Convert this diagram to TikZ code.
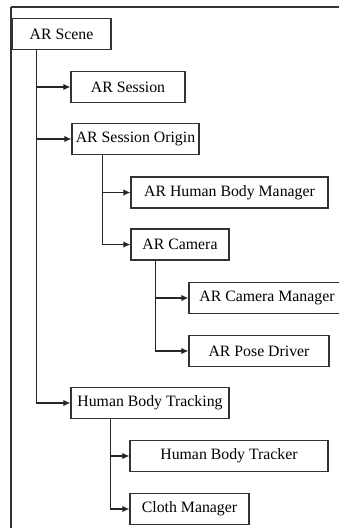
\documentclass[tikz,border=0pt]{standalone}
\usepackage{fontspec}
\setmainfont{Liberation Serif}
\usetikzlibrary{arrows.meta}
\begin{document}
\begin{tikzpicture}[x=1pt,y=-1pt,
  box/.style={draw=black!80, line width=1.3pt, minimum height=31pt, inner sep=0pt,
    font=\fontsize{15.8}{18}\selectfont, text=black},
  link/.style={draw=black!85, line width=1.3pt, -{Latex[length=7pt,width=6.5pt]}}]
\useasboundingbox (0,0) rectangle (339,528);
\fill[white] (0,0) rectangle (339,528);
\draw[black!80, line width=1.5pt] (11,7) -- (345,7);
\draw[black!80, line width=1.5pt] (11,7) -- (11,535);
\node[box, minimum width=99pt]  (scene)   at (61.5,34)  {AR Scene};
\node[box, minimum width=114pt] (session) at (128,87)   {AR Session};
\node[box, minimum width=127pt] (origin)  at (135.5,139){AR Session Origin};
\node[box, minimum width=197pt] (hbm)     at (229.5,192.5) {AR Human Body Manager};
\node[box, minimum width=98pt]  (camera)  at (180,244.5){AR Camera};
\node[box, minimum width=156pt] (cammgr)  at (267,298)  {AR Camera Manager};
\node[box, minimum width=140pt] (pose)    at (259,351)  {AR Pose Driver};
\node[box, minimum width=158pt] (hbt)     at (150,403)  {Human Body Tracking};
\node[box, minimum width=198pt] (tracker) at (229,456)  {Human Body Tracker};
\node[box, minimum width=119pt] (cloth)   at (189.5,509){Cloth Manager};
\draw[link] ([xshift=25pt]scene.south west) |- (session.west);
\draw[link] ([xshift=25pt]scene.south west) |- (origin.west);
\draw[link] ([xshift=25pt]scene.south west) |- (hbt.west);
\draw[link] ([xshift=31pt]origin.south west) |- (hbm.west);
\draw[link] ([xshift=31pt]origin.south west) |- (camera.west);
\draw[link] ([xshift=25pt]camera.south west) |- (cammgr.west);
\draw[link] ([xshift=25pt]camera.south west) |- (pose.west);
\draw[link] ([xshift=40pt]hbt.south west) |- (tracker.west);
\draw[link] ([xshift=40pt]hbt.south west) |- (cloth.west);
\end{tikzpicture}
\end{document}
